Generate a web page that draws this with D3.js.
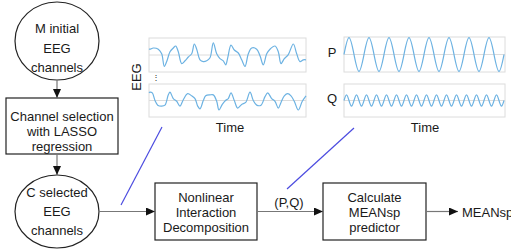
<!DOCTYPE html>
<html>
<head>
<meta charset="utf-8">
<script src="https://cdn.jsdelivr.net/npm/d3@7"></script>
<style>
  body { margin: 0; background: #fff; }
  text { font-family: Arial, "Liberation Sans", sans-serif; fill: #1a1a1a; }
</style>
</head>
<body>
<div class="chart"></div>
<script>
// EEG traces, [time, amplitude]
var eegTop = [[0,0.3],[1,0.29],[4.3,0.35],[9.3,0.29],[12.7,0.06],[15.3,-0.57],[17.7,-0.33],[21,0.16],[24.3,0.35],
  [26.7,0.45],[29.3,0.16],[32.7,-0.43],[36,-0.29],[39.3,-0.1],[42.7,0.06],[45.3,0.55],[47.7,0.29],[51,-0.24],
  [54.3,-0.33],[57.7,-0.29],[61,-0.14],[64.3,0.61],[67.7,0.06],[71,-0.18],[74.3,-0.29],[76.7,-0.49],[78.7,-0.14],
  [82,0.49],[85.3,0.25],[89.3,0.1],[92.7,-0.24],[96,-0.57],[99.3,0.06],[102.7,0.35],[107.7,0.29],[111,-0.04],
  [114.3,-0.49],[117.7,0.06],[121,0.29],[126,0.45],[129.3,0.16],[132,-0.43],[135.3,-0.18],[139.3,0.02],
  [144.3,0.55],[147.7,0.06],[151,-0.33],[154.3,-0.24],[157,-0.24]];

var eegBottom = [[0,0.4],[1,0.43],[3.3,0.39],[6,0],[8.7,-0.24],[12.7,-0.29],[16,-0.24],[19.3,0.29],[21,0.43],
  [24.3,0.1],[27.7,-0.04],[31,-0.29],[34.3,0.04],[38.7,0.35],[42.7,0.24],[46,0.1],[48.7,-0.29],[51,-0.43],
  [54.3,0],[56.7,0.24],[61,0.29],[64.3,0.29],[67.7,-0.04],[70,-0.49],[73.3,-0.2],[76.5,0],[79.3,0.1],[82,0.39],
  [85.3,0],[88.7,-0.39],[92.7,-0.2],[96.7,-0.1],[101,0.43],[104.3,0],[107.7,-0.24],[112,-0.24],[116,0.2],
  [118.7,0.39],[122.7,0.1],[126,-0.04],[129.3,-0.39],[132,-0.1],[135.3,0.24],[138.7,0.35],[142,0.24],
  [145.3,-0.04],[149.3,-0.49],[153.3,-0.04],[157,0.24]];

// P and Q components, one value per quarter period (zero, peak, zero, trough ...)
var pWave = [0,0.96,0,-0.96, 0,0.96,0,-0.96, 0,0.96,0,-0.96, 0,0.96,0,-0.96,
             0,0.96,0,-0.96, 0,0.96,0,-0.96, 0,0.96,0,-0.96, 0,0.96,0,-0.96, 0];
var qWave = [0,0.34,0,-0.34, 0,0.34,0,-0.34, 0,0.34,0,-0.34, 0,0.34,0,-0.34,
             0,0.34,0,-0.34, 0,0.34,0,-0.34, 0,0.34,0,-0.34, 0,0.34,0,-0.34,
             0,0.34,0,-0.34, 0,0.34,0,-0.34, 0,0.34,0,-0.34, 0,0.34,0,-0.34,
             0,0.34,0,-0.34, 0,0.34,0,-0.34, 0,0.34,0,-0.34, 0,0.34,0,-0.34, 0];

var startLabel = ["M initial", "EEG", "channels"];
var selectLabel = ["Channel selection", "with LASSO", "regression"];
var chosenLabel = ["C selected", "EEG", "channels"];
var decompLabel = ["Nonlinear", "Interaction", "Decomposition"];
var predLabel = ["Calculate", "MEANsp", "predictor"];

var width = 511, height = 251;
var canvas = d3.select(".chart").append("svg")
  .attr("width", width).attr("height", height);

canvas.append("defs").append("marker")
  .attr("id", "arr")
  .attr("markerUnits", "userSpaceOnUse")
  .attr("markerWidth", 9).attr("markerHeight", 8)
  .attr("refX", 9).attr("refY", 4)
  .attr("orient", "auto")
  .append("path").attr("d", "M0,0 L9,4 L0,8 z").attr("fill", "#111");

function lines(lbl, cx, y0, dy, size){
  var t = canvas.append("text").attr("text-anchor", "middle").style("font-size", size + "px");
  lbl.forEach(function(s, i){
    t.append("tspan").attr("x", cx).attr("y", y0 + i*dy).text(s);
  });
}

function arrow(x1, y1, x2, y2){
  canvas.append("line")
    .attr("x1", x1).attr("y1", y1).attr("x2", x2).attr("y2", y2)
    .attr("stroke", "#777").attr("stroke-width", 1.2)
    .attr("marker-end", "url(#arr)");
}

// flow nodes
canvas.append("ellipse").attr("cx", 57).attr("cy", 41).attr("rx", 42).attr("ry", 39)
  .attr("fill", "none").attr("stroke", "#222").attr("stroke-width", 1.2);
lines(startLabel, 57, 33, 19.5, 13);

canvas.append("rect").attr("x", 6).attr("y", 98).attr("width", 112).attr("height", 56)
  .attr("fill", "none").attr("stroke", "#222").attr("stroke-width", 1.2);
lines(selectLabel, 62, 121, 15, 13);

canvas.append("ellipse").attr("cx", 57).attr("cy", 211.5).attr("rx", 42).attr("ry", 36.5)
  .attr("fill", "none").attr("stroke", "#222").attr("stroke-width", 1.2);
lines(chosenLabel, 57, 197, 19, 13);

canvas.append("rect").attr("x", 155).attr("y", 183).attr("width", 102).attr("height", 57)
  .attr("fill", "none").attr("stroke", "#222").attr("stroke-width", 1.2);
lines(decompLabel, 206, 202, 15, 13);

canvas.append("rect").attr("x", 323).attr("y", 183).attr("width", 103).attr("height", 57)
  .attr("fill", "none").attr("stroke", "#222").attr("stroke-width", 1.2);
lines(predLabel, 374.5, 202, 15, 13);

arrow(57, 80, 57, 98);
arrow(57, 154, 57, 175);
arrow(99, 211.5, 155, 211.5);
arrow(257, 211.5, 323, 211.5);
arrow(426, 211.5, 458, 211.5);

canvas.append("text").attr("x", 289).attr("y", 207).attr("text-anchor", "middle")
  .style("font-size", "13px").text("(P,Q)");
canvas.append("text").attr("x", 462).attr("y", 217).style("font-size", "13px").text("MEANsp");

// blue call-out lines
canvas.append("line").attr("x1", 121).attr("y1", 205).attr("x2", 162).attr("y2", 127)
  .attr("stroke", "#4b4be0").attr("stroke-width", 1.2);
canvas.append("line").attr("x1", 287).attr("y1", 189).attr("x2", 354).attr("y2", 128)
  .attr("stroke", "#4b4be0").attr("stroke-width", 1.2);

// small signal panels
function panel(x0, x1, y0, y1, data, xmax, ymax, keyed){
  var xs = d3.scaleLinear().domain([0, xmax]).range([x0, x1]);
  var ys = d3.scaleLinear().domain([-ymax, ymax]).range([y1, y0]);
  var g = canvas.append("g");
  g.append("rect").attr("x", x0).attr("y", y0).attr("width", x1 - x0).attr("height", y1 - y0)
    .attr("fill", "none").attr("stroke", "#dcdcdc").attr("stroke-width", 1);
  g.append("line").attr("x1", x0).attr("x2", x1).attr("y1", ys(0)).attr("y2", ys(0))
    .attr("stroke", "#dcdcdc").attr("stroke-width", 1);
  var line = d3.line()
    .x(function(d, i){ return keyed ? xs(d[0]) : xs(i); })
    .y(function(d){ return keyed ? ys(d[1]) : ys(d); })
    .curve(keyed ? d3.curveCatmullRom : d3.curveNatural);
  g.append("path").datum(data).attr("d", line)
    .attr("fill", "none").attr("stroke", "#6cb2e2").attr("stroke-width", 1.2);
}

panel(149, 306, 38, 72, eegTop, 157, 0.85, true);
panel(149, 306, 84, 117, eegBottom, 157, 0.85, true);
panel(344, 505, 37, 72, pWave, 32.2, 1, false);
panel(344, 505, 84, 117, qWave, 64.4, 1, false);

canvas.append("text").attr("transform", "translate(141,77) rotate(-90)")
  .attr("text-anchor", "middle").style("font-size", "13px").text("EEG");
canvas.append("text").attr("x", 156).attr("y", 80).attr("text-anchor", "middle")
  .style("font-size", "8px").text("⋮");
canvas.append("text").attr("x", 230).attr("y", 132).attr("text-anchor", "middle")
  .style("font-size", "13px").text("Time");
canvas.append("text").attr("x", 425).attr("y", 132).attr("text-anchor", "middle")
  .style("font-size", "13px").text("Time");
canvas.append("text").attr("x", 332).attr("y", 57).attr("text-anchor", "middle")
  .style("font-size", "13px").text("P");
canvas.append("text").attr("x", 332).attr("y", 103).attr("text-anchor", "middle")
  .style("font-size", "13px").text("Q");
</script>
</body>
</html>
